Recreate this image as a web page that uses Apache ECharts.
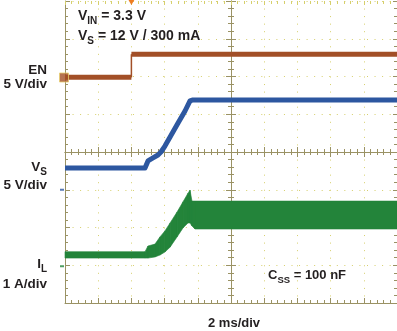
<!DOCTYPE html>
<html><head><meta charset="utf-8">
<script src="https://cdn.jsdelivr.net/npm/echarts@6/dist/echarts.min.js"></script>
<style>html,body{margin:0;padding:0;background:#fff}#c{width:397px;height:331px}</style>
</head><body><div id="c"></div>
<script>
// ---- data (time in ms, screen centred on 0, 2 ms/div) ----
const enTime  = [-10, -6.0, -6.0, 10];
const enVolts = [-0.1, -0.1, 2.95, 2.95];
const vsTime  = [-10, -5.18, -5.0, -4.7, -4.4, -4.22, -3.98, -3.67, -3.19, -2.77, -2.47, -2.29, 10];
const vsVolts = [2.88, 2.88, 3.81, 4.21, 4.6, 5.0, 5.79, 6.99, 8.84, 10.43, 11.76, 11.89, 11.89];
const ilTime  = [-10, -5.18, -5.0, -4.58, -4.28, -3.98, -3.67, -3.25, -2.89, -2.59, -2.47, -2.35, -2.17, 10];
const ilMin   = [0.19, 0.19, 0.19, 0.22, 0.27, 0.35, 0.48, 0.75, 0.99, 1.12, 1.12, 1.04, 0.96, 0.96];
const ilMax   = [0.36, 0.36, 0.51, 0.56, 0.75, 0.91, 1.12, 1.41, 1.68, 1.91, 1.99, 1.70, 1.70, 1.70];
const chGround = {EN: 2, VS: -1, IL: -3};   // ground level, divisions from centre
const chPerDiv = {EN: 5, VS: 5, IL: 1};     // V/div, V/div, A/div
const triggerTime = -6;
// ---------------------------------------------------------

const OLIVE = '#9a9264', DOT = '#d6cf6c', TXT = '#231f20';
const BROWN = '#a24f27', BLUE = '#2d57a0', GREEN = '#23843a';
const F = '"Liberation Sans", Arial, sans-serif';

function toDiv(ch, v) { return chGround[ch] + v / chPerDiv[ch]; }
function enPts(a, b) { return enTime.slice(a, b).map((t, i) => [t, toDiv('EN', enVolts[a + i])]); }

function axis(dim, o) {
  const isX = dim === 'x';
  return {
    type: 'value', min: isX ? -10 : -4, max: isX ? 10 : 4, interval: isX ? 2 : 1,
    position: o.position, axisLabel: {show: false},
    axisLine: {show: o.line !== false, onZero: !!o.onZero, onZeroAxisIndex: o.onZero ? 0 : undefined,
      lineStyle: {color: OLIVE, width: 1}},
    axisTick: {show: true, inside: o.inside, length: o.major || 5, lineStyle: {color: o.tickColor || OLIVE}},
    minorTick: {show: true, splitNumber: 5, length: o.minor || 3, lineStyle: {color: o.tickColor || OLIVE}},
    splitLine: {show: !!o.split, lineStyle: {color: DOT, width: 1, type: [1, 6.55]}}
  };
}

// text labels with real subscripts: parts = [text, fontSize, baselineShift]
const mctx = document.createElement('canvas').getContext('2d');
function fontOf(fs) { return 'bold ' + fs + 'px ' + F; }
function tw(t, fs) { mctx.font = fontOf(fs); return mctx.measureText(t).width; }
function label(parts, x, baseline, align) {
  const total = parts.reduce((s, p) => s + tw(p[0], p[1]), 0);
  let cx = align === 'right' ? x - total : x;
  return parts.map(p => {
    const el = {type: 'text', x: cx, y: baseline + p[2] - 0.8 * p[1], z: 100,
      style: {text: p[0], font: fontOf(p[1]), fill: TXT, align: 'left', verticalAlign: 'top'}};
    cx += tw(p[0], p[1]);
    return el;
  });
}

const chart = echarts.init(document.getElementById('c'), null, {renderer: 'canvas'});
const L = 13.5, T = 14;

chart.setOption({
  animation: false,
  backgroundColor: '#ffffff',
  grid: {left: 65, top: 1, width: 332, height: 302},
  xAxis: [
    axis('x', {position: 'bottom', inside: true, split: true}),
    axis('x', {position: 'bottom', inside: true, onZero: true}),
    axis('x', {position: 'bottom', inside: false, onZero: true}),
    axis('x', {position: 'top', inside: true, line: false, tickColor: DOT, major: 4, minor: 3})
  ],
  yAxis: [
    axis('y', {position: 'left', inside: true, split: true}),
    axis('y', {position: 'left', inside: true, onZero: true}),
    axis('y', {position: 'left', inside: false, onZero: true}),
    axis('y', {position: 'right', inside: true, line: false, major: 4, minor: 3})
  ],
  graphic: [].concat(
    label([['V', T, 0], ['IN', 10, 4], [' = 3.3 V', T, 0]], 78, 20),
    label([['V', T, 0], ['S', 10, 4], [' = 12 V / 300 mA', T, 0]], 78, 40),
    label([['EN', L, 0]], 47, 74, 'right'),
    label([['5 V/div', L, 0]], 47, 88, 'right'),
    label([['V', L, 0], ['S', 10, 4]], 47, 171.5, 'right'),
    label([['5 V/div', L, 0]], 47, 189.5, 'right'),
    label([['I', L, 0], ['L', 10, 4.5]], 47, 268, 'right'),
    label([['1 A/div', L, 0]], 47, 288.5, 'right'),
    label([['C', 13, 0], ['SS', 9.5, 4], [' = 100 nF', 13, 0]], 268, 279),
    label([['2 ms/div', 13, 0]], 208, 327)
  ),
  series: [
    {
      type: 'custom', name: 'IL', xAxisIndex: 0, yAxisIndex: 0, z: 3,
      data: ilTime.map((t, i) => [t, toDiv('IL', ilMin[i]), toDiv('IL', ilMax[i])]),
      encode: {x: 0, y: [1, 2]},
      renderItem: function (params, api) {
        const i = params.dataIndex;
        if (i >= ilTime.length - 1) return null;
        const a = [ilTime[i], toDiv('IL', ilMin[i])], b = [ilTime[i + 1], toDiv('IL', ilMin[i + 1])];
        const c = [ilTime[i + 1], toDiv('IL', ilMax[i + 1])], d = [ilTime[i], toDiv('IL', ilMax[i])];
        return {type: 'polygon', shape: {points: [a, b, c, d].map(p => api.coord(p))},
          style: {fill: GREEN, stroke: GREEN, lineWidth: 0.6}};
      }
    },
    {
      type: 'line', name: 'EN low', xAxisIndex: 0, yAxisIndex: 0, symbol: 'none', z: 4,
      data: enPts(0, 2), lineStyle: {color: BROWN, width: 5, cap: 'butt'}
    },
    {
      type: 'line', name: 'EN edge', xAxisIndex: 0, yAxisIndex: 0, symbol: 'none', z: 4,
      data: enPts(1, 3), lineStyle: {color: BROWN, width: 1.5}
    },
    {
      type: 'line', name: 'EN high', xAxisIndex: 0, yAxisIndex: 0, symbol: 'none', z: 4, clip: false,
      data: enPts(2, 4), lineStyle: {color: BROWN, width: 5, cap: 'butt'},
      markPoint: {
        symbol: 'triangle', symbolRotate: 180, symbolSize: [7, 6], symbolOffset: [0, 1],
        itemStyle: {color: '#ee7d22'}, label: {show: false},
        data: [{coord: [triggerTime, 4]}]
      }
    },
    {
      type: 'line', name: 'VS', xAxisIndex: 0, yAxisIndex: 0, symbol: 'none', z: 4,
      data: vsTime.map((t, i) => [t, toDiv('VS', vsVolts[i])]),
      lineStyle: {color: BLUE, width: 5, join: 'round'}
    },
    {
      type: 'scatter', name: 'ENgnd', xAxisIndex: 0, yAxisIndex: 0, clip: false, z: 5,
      symbol: 'rect', symbolSize: [9, 9], symbolOffset: [-1, 1],
      itemStyle: {color: BROWN, borderColor: '#e8d070', borderWidth: 1},
      data: [[-10, chGround.EN]]
    },
    {
      type: 'scatter', name: 'VSgnd', xAxisIndex: 0, yAxisIndex: 0, clip: false, z: 5,
      symbol: 'rect', symbolSize: [4, 2], symbolOffset: [-3, 0],
      itemStyle: {color: BLUE}, data: [[-10, chGround.VS]]
    },
    {
      type: 'scatter', name: 'ILgnd', xAxisIndex: 0, yAxisIndex: 0, clip: false, z: 5,
      symbol: 'rect', symbolSize: [4, 2], symbolOffset: [-3, 1],
      itemStyle: {color: GREEN}, data: [[-10, chGround.IL]]
    }
  ]
});
</script></body></html>
